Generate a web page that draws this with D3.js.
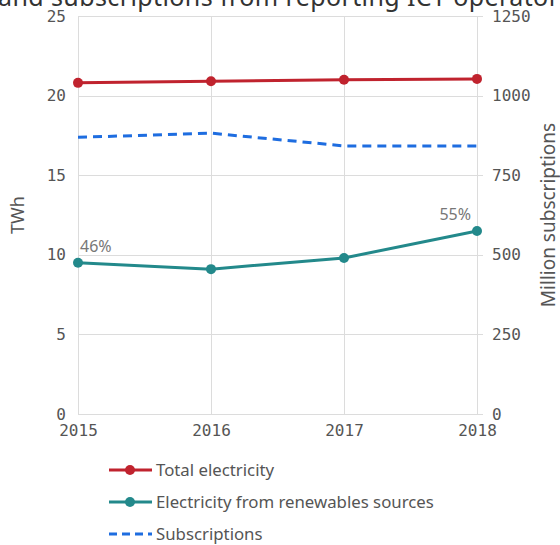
<!DOCTYPE html>
<html>
<head>
<meta charset="utf-8">
<script src="https://cdn.jsdelivr.net/npm/d3@7"></script>
<style>
  html, body { margin: 0; padding: 0; background: #fff; }
  svg { display: block; }
</style>
</head>
<body>
<svg id="chart" width="560" height="545"></svg>
<script>
// Data
const years = [2015, 2016, 2017, 2018];
const totalElectricity = [20.8, 20.9, 21.0, 21.05];      // TWh
const renewableElectricity = [9.5, 9.1, 9.8, 11.5];      // TWh
const subscriptions = [869, 882, 842, 842];              // million
const leftTicks = [0, 5, 10, 15, 20, 25];
const rightTicks = [0, 250, 500, 750, 1000, 1250];
const shareLabels = [{ i: 0, text: "46%" }, { i: 3, text: "55%" }];
const legendItems = ["Total electricity", "Electricity from renewables sources", "Subscriptions"];
const titleText = "Electricity consumption and subscriptions from reporting ICT operators";

const colors = { total: "#c0232e", renew: "#23898b", subs: "#1e6de0" };
const tickFont = "'DejaVu Sans Mono', monospace";
const textFont = "'Noto Sans', 'Open Sans', sans-serif";

const svg = d3.select("#chart");
const m = { left: 78, right: 477, top: 16, bottom: 414 };

const x = d3.scalePoint().domain(years).range([m.left, m.right]);
const yL = d3.scaleLinear().domain([0, 25]).range([m.bottom, m.top]);
const yR = d3.scaleLinear().domain([0, 1250]).range([m.bottom, m.top]);

// Title: wider than the frame, runs off the top and both sides
const title = svg.append("text")
  .attr("y", 6)
  .attr("font-family", textFont).attr("font-size", 25)
  .attr("letter-spacing", 0.4)
  .attr("fill", "#333")
  .text(titleText);
const lead = title.node().getSubStringLength(0, titleText.indexOf("and"));
title.attr("x", -lead - 2);

// Grid
const grid = svg.append("g").attr("stroke", "#dcdcdc").attr("stroke-width", 1);
grid.selectAll("line.h").data(leftTicks).join("line")
  .attr("x1", m.left).attr("x2", m.right + 6)
  .attr("y1", d => Math.round(yL(d)) + 0.5).attr("y2", d => Math.round(yL(d)) + 0.5);
grid.selectAll("line.v").data(years).join("line")
  .attr("x1", d => Math.round(x(d)) + 0.5).attr("x2", d => Math.round(x(d)) + 0.5)
  .attr("y1", m.top).attr("y2", m.bottom);

// Left axis
const axL = svg.append("g").attr("transform", `translate(${m.left},0)`)
  .call(d3.axisLeft(yL).tickValues(leftTicks).tickFormat(d3.format("d")).tickSize(0).tickPadding(12));
axL.select(".domain").remove();
axL.selectAll("text").attr("font-family", tickFont).attr("font-size", 16).attr("fill", "#555");

// Right axis
const axR = svg.append("g").attr("transform", `translate(${m.right},0)`)
  .call(d3.axisRight(yR).tickValues(rightTicks).tickFormat(d3.format("d")).tickSize(0).tickPadding(15));
axR.select(".domain").remove();
axR.selectAll("text").attr("font-family", tickFont).attr("font-size", 16).attr("fill", "#555");

// Bottom axis
const axB = svg.append("g").attr("transform", `translate(0,${m.bottom})`)
  .call(d3.axisBottom(x).tickFormat(d3.format("d")).tickSize(0).tickPadding(11));
axB.select(".domain").remove();
axB.selectAll("text").attr("font-family", tickFont).attr("font-size", 16).attr("fill", "#555");

// Axis titles
svg.append("text")
  .attr("transform", `translate(24,${(m.top + m.bottom) / 2}) rotate(-90)`)
  .attr("text-anchor", "middle")
  .attr("font-family", textFont).attr("font-size", 18).attr("fill", "#555")
  .text("TWh");
svg.append("text")
  .attr("transform", `translate(555,${(m.top + m.bottom) / 2}) rotate(-90)`)
  .attr("text-anchor", "middle")
  .attr("font-family", textFont).attr("font-size", 19).attr("fill", "#555")
  .text("Million subscriptions");

// Series
const lineL = d3.line().x((d, i) => x(years[i])).y(d => yL(d));
const lineR = d3.line().x((d, i) => x(years[i])).y(d => yR(d));

svg.append("path").datum(subscriptions)
  .attr("d", lineR).attr("fill", "none")
  .attr("stroke", colors.subs).attr("stroke-width", 3)
  .attr("stroke-dasharray", "9,6");

svg.append("path").datum(totalElectricity)
  .attr("d", lineL).attr("fill", "none")
  .attr("stroke", colors.total).attr("stroke-width", 3);
svg.append("g").selectAll("circle").data(totalElectricity).join("circle")
  .attr("cx", (d, i) => x(years[i])).attr("cy", d => yL(d)).attr("r", 5)
  .attr("fill", colors.total);

svg.append("path").datum(renewableElectricity)
  .attr("d", lineL).attr("fill", "none")
  .attr("stroke", colors.renew).attr("stroke-width", 3);
svg.append("g").selectAll("circle").data(renewableElectricity).join("circle")
  .attr("cx", (d, i) => x(years[i])).attr("cy", d => yL(d)).attr("r", 5)
  .attr("fill", colors.renew);

// Renewable share labels
svg.append("g").selectAll("text").data(shareLabels).join("text")
  .attr("x", d => d.i === 0 ? x(years[d.i]) + 2 : x(years[d.i]) - 6)
  .attr("y", d => yL(renewableElectricity[d.i]) - 11)
  .attr("text-anchor", d => d.i === 0 ? "start" : "end")
  .attr("font-family", textFont).attr("font-size", 16).attr("fill", "#777")
  .text(d => d.text);

// Legend
const legend = svg.append("g");
const legendY = [470, 502, 534];
const legendColors = [colors.total, colors.renew, colors.subs];
legendItems.forEach((label, i) => {
  const g = legend.append("g").attr("transform", `translate(0,${legendY[i]})`);
  g.append("line").attr("x1", 109).attr("x2", 152).attr("y1", 0).attr("y2", 0)
    .attr("stroke", legendColors[i]).attr("stroke-width", 3)
    .attr("stroke-dasharray", i === 2 ? "8,5" : null);
  if (i < 2) g.append("circle").attr("cx", 130).attr("cy", 0).attr("r", 5).attr("fill", legendColors[i]);
  g.append("text").attr("x", 156).attr("y", 0).attr("dy", "0.35em")
    .attr("font-family", textFont).attr("font-size", 16.8).attr("fill", "#555")
    .text(label);
});
</script>
</body>
</html>
